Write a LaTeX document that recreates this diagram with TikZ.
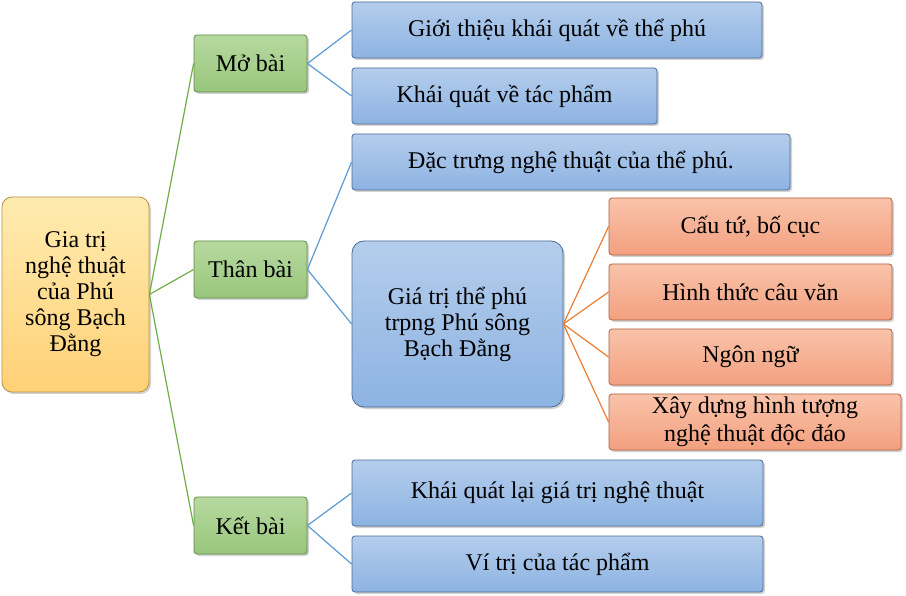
\documentclass[tikz,border=0pt]{standalone}
\usepackage{fontspec}
\setmainfont{Liberation Serif}
\usetikzlibrary{shadows}
\definecolor{bluetop}{HTML}{B4CDEC}
\definecolor{bluebot}{HTML}{8DB3E2}
\definecolor{blueln}{HTML}{4A6A94}
\definecolor{grtop}{HTML}{B7D9A0}
\definecolor{grbot}{HTML}{98C67C}
\definecolor{grln}{HTML}{5E8A45}
\definecolor{ortop}{HTML}{F9C3AA}
\definecolor{orbot}{HTML}{F3A07F}
\definecolor{orln}{HTML}{B0603F}
\definecolor{ytop}{HTML}{FFEBB0}
\definecolor{ybot}{HTML}{FFD176}
\definecolor{yln}{HTML}{B69545}
\definecolor{glink}{HTML}{70AD47}
\definecolor{blink}{HTML}{5B9BD5}
\definecolor{olink}{HTML}{ED7D31}
\tikzset{
 base/.style={draw, line width=0.8pt, rounded corners=3pt, inner sep=0pt, align=center,
   font=\fontsize{24}{26}\selectfont, drop shadow={shadow xshift=2pt,shadow yshift=-2pt,opacity=0.35}},
 bluebox/.style={base, draw=blueln, top color=bluetop, bottom color=bluebot},
 greenbox/.style={base, draw=grln, top color=grtop, bottom color=grbot},
 orbox/.style={base, draw=orln, top color=ortop, bottom color=orbot},
 ybox/.style={base, draw=yln, top color=ytop, bottom color=ybot, rounded corners=10pt},
 gl/.style={glink, line width=1.2pt},
 bl/.style={blink, line width=1.2pt},
 ol/.style={olink, line width=1.2pt},
}
\newcommand{\bx}[6]{\node[#1, minimum width={#4-#2}, minimum height={#5-#3}] (#6) at ({(#2+#4)/2},{(#3+#5)/2})}
\begin{document}
\begin{tikzpicture}[x=1pt,y=-1pt]
\useasboundingbox[fill=white] (0,0) rectangle (906,596);
\bx{ybox}{2}{197}{149}{392}{root} {Gia trị\\nghệ thuật\\của Phú\\sông Bạch\\Đằng};
\bx{greenbox}{194}{35}{307}{92}{mo} {Mở bài};
\bx{greenbox}{194}{241}{307}{298}{than} {Thân bài};
\bx{greenbox}{194}{497}{307}{554}{ket} {Kết bài};
\bx{bluebox}{352}{2}{762}{58}{b1} {Giới thiệu khái quát về thể phú};
\bx{bluebox}{352}{68}{657}{124}{b2} {Khái quát về tác phẩm};
\bx{bluebox}{352}{134}{790}{190}{b3} {Đặc trưng nghệ thuật của thể phú.};
\bx{bluebox,rounded corners=12pt}{352}{241}{563}{407}{b4} {Giá trị thể phú\\trpng Phú sông\\Bạch Đằng};
\bx{bluebox}{352}{460}{763}{526}{b5} {Khái quát lại giá trị nghệ thuật};
\bx{bluebox}{352}{536}{763}{592}{b6} {Ví trị của tác phẩm};
\bx{orbox}{609}{198}{892}{255}{o1} {Cấu tứ, bố cục};
\bx{orbox}{609}{264}{892}{320}{o2} {Hình thức câu văn};
\bx{orbox}{609}{329}{892}{385}{o3} {Ngôn ngữ};
\bx{orbox,font=\fontsize{24}{28}\selectfont}{609}{394}{901}{450}{o4} {Xây dựng hình tượng\\nghệ thuật độc đáo};
\begin{scope}[on background layer/.style={}]
\foreach \g in {mo,than,ket} \draw[gl] (root.east) -- (\g.west);
\draw[bl] (mo.east) -- (b1.west); \draw[bl] (mo.east) -- (b2.west);
\draw[bl] (than.east) -- (b3.west); \draw[bl] (than.east) -- (b4.west);
\draw[bl] (ket.east) -- (b5.west); \draw[bl] (ket.east) -- (b6.west);
\foreach \o in {o1,o2,o3,o4} \draw[ol] (b4.east) -- (\o.west);
\end{scope}
\end{tikzpicture}
\end{document}
